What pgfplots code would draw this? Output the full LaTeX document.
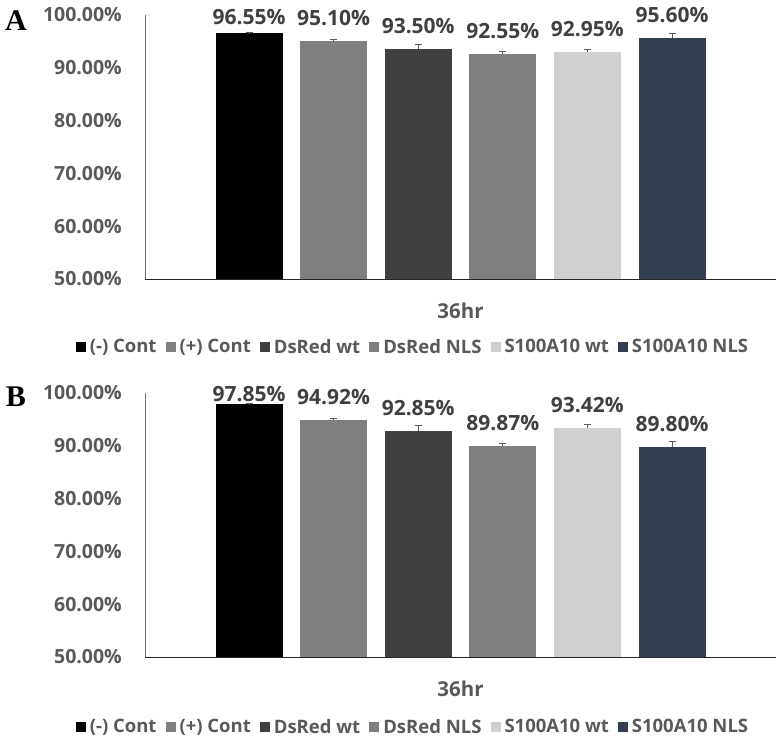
\documentclass[border=0pt]{standalone}
\usepackage{pgfplots}
\pgfplotsset{compat=1.18}
\usepackage{fontspec}
\setmainfont{Open Sans}
\newfontfamily\panelfont{Liberation Serif}

\definecolor{tickgray}{HTML}{595959}
\definecolor{labgray}{HTML}{404040}
\definecolor{cNeg}{HTML}{000000}
\definecolor{cPos}{HTML}{7F7F7F}
\definecolor{cDsWt}{HTML}{404040}
\definecolor{cDsNls}{HTML}{7F7F7F}
\definecolor{cSWt}{HTML}{D0D0D0}
\definecolor{cSNls}{HTML}{333F50}

\pgfplotsset{
  panel/.style={
    scale only axis, width=631pt, height=264pt,
    ymin=50, ymax=100, xmin=-1, xmax=1,
    ybar=17.6pt, bar width=67pt,
    clip=false,
    axis x line=bottom, axis y line=left,
    axis line style={-},
    x axis line style={black!85, line width=1pt},
    y axis line style={black!55, line width=0.8pt},
    major tick length=0pt, tick style={draw=none},
    ytick={50,60,...,100},
    /pgf/number format/assume math mode=true,
    yticklabel={\pgfmathprintnumber[fixed,fixed zerofill,precision=2]{\tick}\%},
    yticklabel style={font=\bfseries\fontsize{19.5}{19.5}\selectfont, text=tickgray, inner sep=0pt, xshift=-23pt},
    xtick={0}, xticklabels={36hr},
    xticklabel style={anchor=center, yshift=-32pt, inner sep=0pt, font=\bfseries\fontsize{20.5}{20.5}\selectfont, text=tickgray},
    error bars/y dir=plus, error bars/y explicit,
    error bars/error bar style={black!65, line width=0.8pt},
    error bars/error mark options={rotate=90, mark size=3.5pt, black!65, line width=0.8pt},
    nodes near coords={\pgfmathprintnumber[fixed,fixed zerofill,precision=2]{\pgfplotspointmeta}\%},
    every node near coord/.append style={anchor=center, yshift=23pt, inner sep=0pt,
      font=\bfseries\fontsize{21}{21}\selectfont, text=labgray},
    legend columns=6,
    legend image code/.code={\fill[#1] (0pt,-5pt) rectangle (10pt,5pt);},
    legend style={draw=none, fill=none, anchor=center,
      font=\bfseries\fontsize{18.5}{18.5}\selectfont, text=tickgray,
      /tikz/every even column/.append style={column sep=7pt},
      /tikz/every odd column/.append style={column sep=2pt},
      cells={anchor=west}},
  }
}

\begin{document}
\begin{tikzpicture}
\path[use as bounding box] (0,0) rectangle (776pt,-744pt);

\node[font=\panelfont\bfseries\fontsize{30}{30}\selectfont] at (16pt,-21pt) {A};
\node[font=\panelfont\bfseries\fontsize{30}{30}\selectfont] at (16pt,-397pt) {B};

% panel A
\begin{axis}[panel, at={(145pt,-279pt)}, anchor=south west,
  legend style={at={(axis description cs:0.4247,-0.2576)}}]
\addplot[fill=cNeg, draw=none, every node near coord/.append style={yshift=-7pt}]
  coordinates {(0,96.55) +- (0,0.10)};
\addplot[fill=cPos, draw=none] coordinates {(0,95.10) +- (0,0.25)};
\addplot[fill=cDsWt, draw=none] coordinates {(0,93.50) +- (0,1.00)};
\addplot[fill=cDsNls, draw=none] coordinates {(0,92.55) +- (0,0.50)};
\addplot[fill=cSWt, draw=none] coordinates {(0,92.95) +- (0,0.60)};
\addplot[fill=cSNls, draw=none] coordinates {(0,95.60) +- (0,0.90)};
\legend{(-) Cont, (+) Cont, DsRed wt, DsRed NLS, S100A10 wt, S100A10 NLS}
\end{axis}

% panel B
\begin{axis}[panel, at={(145pt,-657pt)}, anchor=south west,
  legend style={at={(axis description cs:0.4247,-0.265)}}]
\addplot[fill=cNeg, draw=none, every node near coord/.append style={yshift=-13pt}]
  coordinates {(0,97.85) +- (0,0.10)};
\addplot[fill=cPos, draw=none] coordinates {(0,94.92) +- (0,0.20)};
\addplot[fill=cDsWt, draw=none] coordinates {(0,92.85) +- (0,1.05)};
\addplot[fill=cDsNls, draw=none] coordinates {(0,89.87) +- (0,0.60)};
\addplot[fill=cSWt, draw=none] coordinates {(0,93.42) +- (0,0.63)};
\addplot[fill=cSNls, draw=none] coordinates {(0,89.80) +- (0,0.97)};
\legend{(-) Cont, (+) Cont, DsRed wt, DsRed NLS, S100A10 wt, S100A10 NLS}
\end{axis}
\end{tikzpicture}
\end{document}
